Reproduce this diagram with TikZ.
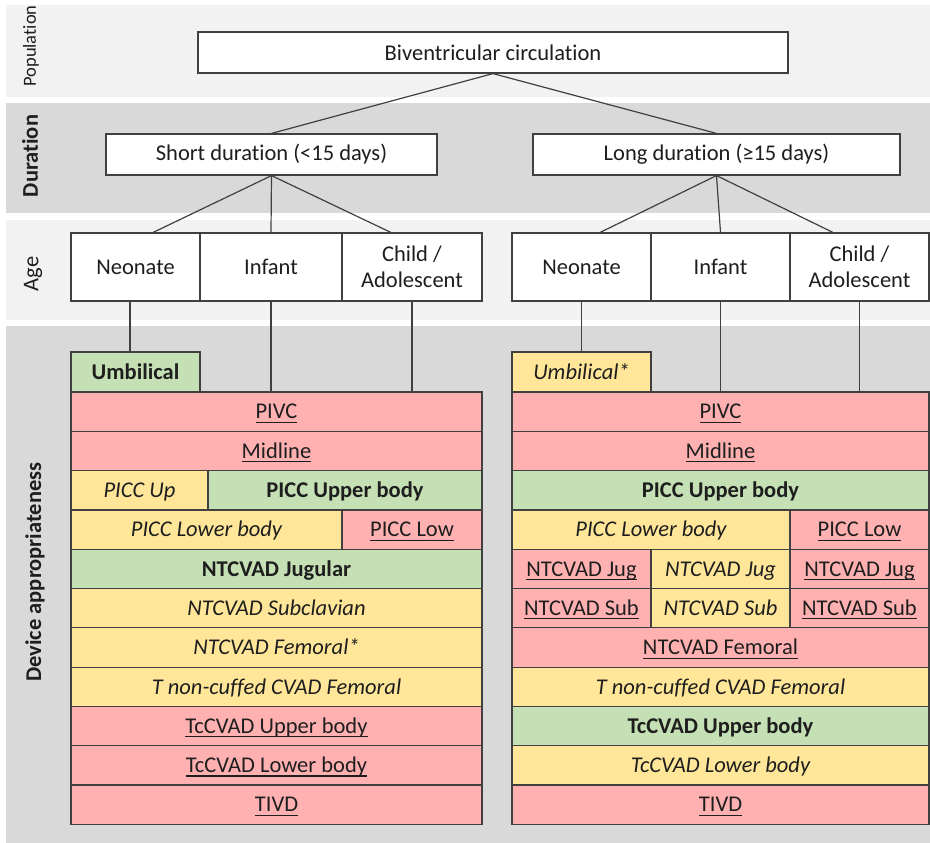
\documentclass[tikz,border=0pt]{standalone}
\usepackage{fontspec}
\setmainfont{Carlito}[Ligatures=NoCommon]
\usetikzlibrary{calc}

\definecolor{bandlight}{HTML}{F2F2F2}
\definecolor{banddark}{HTML}{D9D9D9}
\definecolor{badfill}{HTML}{FFB1B1}
\definecolor{okfill}{HTML}{FFE699}
\definecolor{goodfill}{HTML}{C5E0B4}
\definecolor{edge}{HTML}{404040}
\definecolor{ink}{HTML}{1E1E1E}

% underline at a fixed distance below the baseline
\newcommand{\ulined}[1]{\setbox0\hbox{#1}\rlap{\rule[-4pt]{\wd0}{1.2pt}}\box0}

% \cellbox{name}{x1}{y1}{x2}{y2}{style}{text}
\newcommand{\cellbox}[7]{%
  \node[#6, minimum width={(#4-#2)*1pt}, minimum height={(#5-#3)*1pt}]
    (#1) at ({(#2+#4)/2},{(#3+#5)/2}) {#7};}

\tikzset{
  bodyfont/.style={font=\fontsize{22.5}{26}\selectfont},
  boxbase/.style={draw=edge, line width=1.2pt, inner sep=0pt, text=ink, bodyfont},
  plainbox/.style={boxbase, fill=white, align=center},
  rowbase/.style={boxbase, text height=14.5pt, text depth=0pt},
  good/.style={rowbase, fill=goodfill, font=\fontsize{22.5}{26}\selectfont\bfseries},
  ok/.style={rowbase, fill=okfill, font=\fontsize{22.5}{26}\selectfont\itshape},
  bad/.style={rowbase, fill=badfill},
  link/.style={draw=edge, line width=1.2pt},
  sidelabel/.style={rotate=90, text=ink, inner sep=0pt},
}

\begin{document}
\begin{tikzpicture}[x=1pt, y=-1pt]
\useasboundingbox (0,0) rectangle (930,843);

% level bands
\fill[bandlight] (6,5) rectangle (930,97);
\fill[banddark]  (6,103) rectangle (930,213);
\fill[bandlight] (6,220) rectangle (930,320);
\fill[banddark]  (6,326) rectangle (930,843);

% level labels
\node[sidelabel, font=\fontsize{18.5}{22}\selectfont] (lpop) at (31,46) {Population};
\node[sidelabel, font=\fontsize{22.5}{26}\selectfont\bfseries] (ldur) at (30,156) {Duration};
\node[sidelabel, font=\fontsize{22.5}{26}\selectfont] (lage) at (33,274) {Age};
\node[sidelabel, font=\fontsize{22.5}{26}\selectfont\bfseries] (ldev) at (35,572) {Device appropriateness};

% population and duration
\cellbox{pop}{198}{32}{788}{73}{plainbox}{Biventricular circulation}
\cellbox{sd}{106}{134}{437}{175}{plainbox}{Short duration (<15 days)}
\cellbox{ld}{533}{134}{900}{175}{plainbox}{Long duration (≥15 days)}

% age groups
\cellbox{neoL}{71}{233}{200}{301}{plainbox}{Neonate}
\cellbox{infL}{200}{233}{342}{301}{plainbox}{Infant}
\cellbox{chiL}{342}{233}{482}{301}{plainbox}{Child /\\Adolescent}
\cellbox{neoR}{512}{233}{651}{301}{plainbox}{Neonate}
\cellbox{infR}{651}{233}{790}{301}{plainbox}{Infant}
\cellbox{chiR}{790}{233}{929}{301}{plainbox}{Child /\\Adolescent}

% devices, short duration
\cellbox{umbL}{71}{352}{200}{392}{good}{Umbilical}
\cellbox{pivcL}{71}{392}{482}{431.3}{bad}{\ulined{PIVC}}
\cellbox{midL}{71}{431.3}{482}{470.6}{bad}{\ulined{Midline}}
\cellbox{piccUpL}{71}{470.6}{208}{509.9}{ok}{PICC Up}
\cellbox{piccUbL}{208}{470.6}{482}{509.9}{good}{PICC Upper body}
\cellbox{piccLbL}{71}{509.9}{342}{549.2}{ok}{PICC Lower body}
\cellbox{piccLowL}{342}{509.9}{482}{549.2}{bad}{\ulined{PICC Low}}
\cellbox{jugL}{71}{549.2}{482}{588.5}{good}{NTCVAD Jugular}
\cellbox{subL}{71}{588.5}{482}{627.8}{ok}{NTCVAD Subclavian}
\cellbox{femL}{71}{627.8}{482}{667.1}{ok}{NTCVAD Femoral*}
\cellbox{tncL}{71}{667.1}{482}{706.4}{ok}{T non-cuffed CVAD Femoral}
\cellbox{tcUpL}{71}{706.4}{482}{745.7}{bad}{\ulined{TcCVAD Upper body}}
\cellbox{tcLoL}{71}{745.7}{482}{785}{bad}{\ulined{TcCVAD Lower body}}
\cellbox{tivdL}{71}{785}{482}{824.3}{bad}{\ulined{TIVD}}

% devices, long duration
\cellbox{umbR}{512}{352}{651}{392}{ok}{Umbilical*}
\cellbox{pivcR}{512}{392}{929}{431.3}{bad}{\ulined{PIVC}}
\cellbox{midR}{512}{431.3}{929}{470.6}{bad}{\ulined{Midline}}
\cellbox{piccR}{512}{470.6}{929}{509.9}{good}{PICC Upper body}
\cellbox{piccLbR}{512}{509.9}{790}{549.2}{ok}{PICC Lower body}
\cellbox{piccLowR}{790}{509.9}{929}{549.2}{bad}{\ulined{PICC Low}}
\cellbox{jugAR}{512}{549.2}{651}{588.5}{bad}{\ulined{NTCVAD Jug}}
\cellbox{jugBR}{651}{549.2}{790}{588.5}{ok}{NTCVAD Jug}
\cellbox{jugCR}{790}{549.2}{929}{588.5}{bad}{\ulined{NTCVAD Jug}}
\cellbox{subAR}{512}{588.5}{651}{627.8}{bad}{\ulined{NTCVAD Sub}}
\cellbox{subBR}{651}{588.5}{790}{627.8}{ok}{NTCVAD Sub}
\cellbox{subCR}{790}{588.5}{929}{627.8}{bad}{\ulined{NTCVAD Sub}}
\cellbox{femR}{512}{627.8}{929}{667.1}{bad}{\ulined{NTCVAD Femoral}}
\cellbox{tncR}{512}{667.1}{929}{706.4}{ok}{T non-cuffed CVAD Femoral}
\cellbox{tcUpR}{512}{706.4}{929}{745.7}{good}{TcCVAD Upper body}
\cellbox{tcLoR}{512}{745.7}{929}{785}{ok}{TcCVAD Lower body}
\cellbox{tivdR}{512}{785}{929}{824.3}{bad}{\ulined{TIVD}}

% tree connectors
\draw[link] (pop.south) -- (sd.north);
\draw[link] (pop.south) -- (ld.north);
\draw[link] (sd.south) -- ($(neoL.north west)!0.636!(neoL.north east)$);
\draw[link] (sd.south) -- (infL.north);
\draw[link] (sd.south) -- ($(chiL.north west)!0.35!(chiL.north east)$);
\draw[link] (ld.south) -- ($(neoR.north west)!0.633!(neoR.north east)$);
\draw[link] (ld.south) -- (infR.north);
\draw[link] (ld.south) -- ($(chiR.north west)!0.31!(chiR.north east)$);

% age groups down to their device columns
\coordinate (nL) at ($(neoL.south west)!0.457!(neoL.south east)$);
\draw[link] (nL) -- (nL |- umbL.north);
\draw[link] (infL.south) -- (infL.south |- pivcL.north);
\draw[link] (chiL.south) -- (chiL.south |- pivcL.north);
\draw[link] (neoR.south) -- (umbR.north);
\draw[link] (infR.south) -- (infR.south |- pivcR.north);
\draw[link] (chiR.south) -- (chiR.south |- pivcR.north);
\end{tikzpicture}
\end{document}
